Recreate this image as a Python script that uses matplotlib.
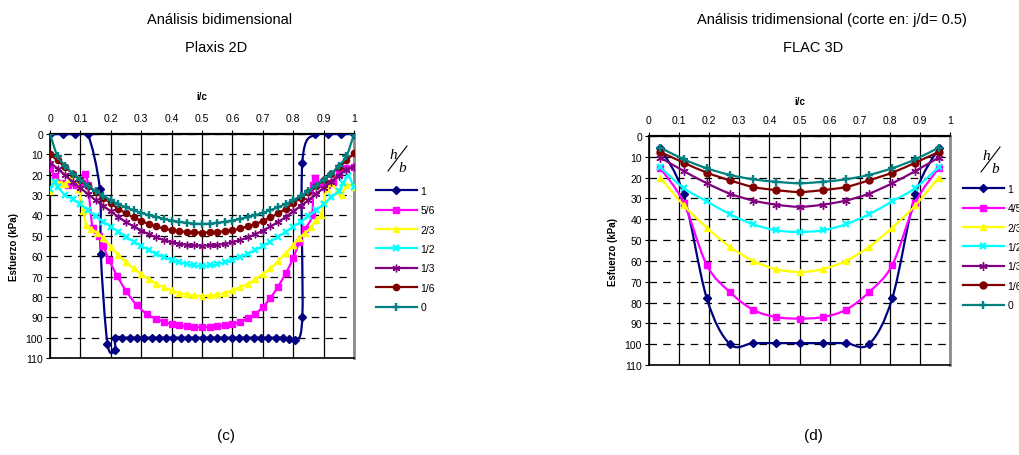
import matplotlib
matplotlib.use("Agg")
import matplotlib.pyplot as plt
from matplotlib.path import Path
from matplotlib.patches import PathPatch
from matplotlib.lines import Line2D

plt.rcParams['font.family'] = ['Liberation Sans', 'DejaVu Sans']

# ---------------- datos: Plaxis 2D (c) ----------------
leyenda_c = ['1', '5/6', '2/3', '1/2', '1/3', '1/6', '0']
leyenda_d = ['1', '4/5', '2/3', '1/2', '1/3', '1/6', '0']

c_x_1 = [0, 0.042, 0.083, 0.124, 0.164, 0.167, 0.189, 0.214, 0.214, 0.238, 0.262, 0.286,
         0.31, 0.334, 0.358, 0.382, 0.406, 0.43, 0.454, 0.478, 0.502, 0.526, 0.55, 0.574,
         0.598, 0.622, 0.646, 0.67, 0.694, 0.718, 0.742, 0.766, 0.785, 0.805, 0.83, 0.83,
         0.873, 0.914, 0.956, 1.0]
c_y_1 = [0, 0, 0, 0, 27, 59, 103, 106, 100, 100, 100, 100,
         100, 100, 100, 100, 100, 100, 100, 100, 100, 100, 100, 100,
         100, 100, 100, 100, 100, 100, 100, 100, 100.5, 101, 90, 14,
         0, 0, 0, 0]

c_x_56 = [0, 0.015, 0.04, 0.06, 0.085, 0.105, 0.115, 0.125, 0.14, 0.16, 0.175, 0.195,
          0.22, 0.25, 0.285, 0.32, 0.35, 0.375, 0.4, 0.425, 0.45, 0.475, 0.5, 0.525,
          0.55, 0.575, 0.6, 0.625, 0.65, 0.675, 0.7, 0.725, 0.75, 0.775, 0.8, 0.82,
          0.84, 0.862, 0.866, 0.872, 0.89, 0.91, 0.93, 0.95, 0.975, 1.0]
c_y_56 = [16.5, 20.5, 24, 25, 25, 24, 19.5, 25, 46, 50, 55, 62,
          69.5, 77, 84, 88.5, 90.8, 92.2, 93.3, 94, 94.5, 94.8, 94.9, 94.8,
          94.5, 94, 93.3, 92.2, 90.5, 88.3, 85, 80.5, 75, 68.5, 61, 53,
          46.5, 40, 25, 21.5, 24.5, 25, 23.5, 19, 16.5, 16]

c_x_23 = [0, 0.015, 0.035, 0.05, 0.065, 0.08, 0.095, 0.11, 0.12, 0.135, 0.155, 0.175,
          0.2, 0.225, 0.25, 0.275, 0.3, 0.325, 0.35, 0.375, 0.4, 0.425, 0.45, 0.475,
          0.5, 0.525, 0.55, 0.575, 0.6, 0.625, 0.65, 0.675, 0.7, 0.725, 0.75, 0.775,
          0.8, 0.82, 0.84, 0.86, 0.875, 0.89, 0.9, 0.91, 0.925, 0.945, 0.96, 0.975, 1.0]
c_y_23 = [28, 23, 24, 24.5, 22, 19.5, 27, 38, 44.5, 46.5, 48.5, 51,
          55.5, 59.5, 63, 66, 68.8, 71.3, 73.5, 75.3, 76.8, 78, 78.8, 79.3,
          79.5, 79.3, 78.8, 78, 76.8, 75.3, 73.5, 71.3, 68.8, 66, 62.5, 58.5,
          54.5, 51, 48.5, 45.5, 42, 40, 33, 27, 24, 28, 30, 25, 26]

c_x_12 = [0, 0.015, 0.025, 0.05, 0.075, 0.1, 0.125, 0.15, 0.175, 0.2, 0.225, 0.25,
          0.275, 0.3, 0.325, 0.35, 0.375, 0.4, 0.425, 0.45, 0.475, 0.5, 0.525, 0.55,
          0.575, 0.6, 0.625, 0.65, 0.675, 0.7, 0.725, 0.75, 0.775, 0.8, 0.825, 0.85,
          0.875, 0.9, 0.925, 0.95, 0.965, 0.98, 1.0]
c_y_12 = [27, 23.5, 26, 30, 32, 34.5, 37.5, 40.3, 43, 45.5, 48, 50.5,
          52.8, 55, 57, 58.8, 60.4, 61.8, 63, 63.9, 64.5, 64.8, 64.5, 63.9,
          63, 61.8, 60.4, 58.8, 57, 55, 52.8, 50.5, 48, 45.5, 43, 40.3,
          37.5, 34.5, 31, 28, 24, 20.5, 26]

c_x = [0, 0.025, 0.05, 0.075, 0.1, 0.125, 0.15, 0.175, 0.2, 0.225, 0.25, 0.275,
       0.3, 0.325, 0.35, 0.375, 0.4, 0.425, 0.45, 0.475, 0.5, 0.525, 0.55, 0.575,
       0.6, 0.625, 0.65, 0.675, 0.7, 0.725, 0.75, 0.775, 0.8, 0.825, 0.85, 0.875,
       0.9, 0.925, 0.95, 0.975, 1.0]
c_y_13 = [14, 17, 20.3, 23.5, 26.5, 29.5, 32.5, 35.3, 38, 40.8, 43.2, 45.4,
          47.4, 49.2, 50.8, 52.1, 53.1, 53.9, 54.4, 54.7, 54.8, 54.7, 54.4, 53.9,
          53.1, 52.1, 50.8, 49.2, 47.4, 45.4, 43.2, 40.8, 38, 35.3, 32.5, 29.5,
          26.5, 23.5, 20.5, 17.5, 16]
c_y_16 = [10, 13, 16.3, 19.5, 22.5, 25.5, 28.5, 31.3, 34, 36.7, 39, 41,
          42.7, 44.2, 45.4, 46.4, 47.2, 47.7, 48.1, 48.3, 48.4, 48.3, 48.1, 47.7,
          47.2, 46.4, 45.4, 44.2, 42.7, 41, 39, 36.7, 34, 31.3, 28.5, 25.5,
          22.5, 19.5, 16.3, 13, 9.5]
c_y_0 = [0, 11, 15.5, 19.5, 22.5, 25.3, 28, 30.3, 32.5, 34.4, 36, 37.4,
         38.7, 39.8, 40.8, 41.7, 42.5, 43.1, 43.6, 44, 44.2, 44, 43.6, 43.1,
         42.5, 41.7, 40.8, 39.8, 38.7, 37.4, 36, 34.4, 32.5, 30.3, 28, 25.3,
         22.5, 19.5, 15.5, 11, 0]

# ---------------- datos: FLAC 3D (d) ----------------
d_x = [0.038, 0.115, 0.192, 0.269, 0.346, 0.423, 0.5, 0.577, 0.654, 0.731, 0.808, 0.885, 0.962]
d_y_1 = [6, 28, 78, 100, 99.5, 99.5, 99.5, 99.5, 99.5, 100, 78, 28, 6]
d_y_45 = [15.5, 32, 62, 75, 83.5, 87, 87.7, 87, 83.5, 75, 62, 32, 15.5]
d_y_23 = [20, 33.3, 44, 53.3, 60, 64, 65.3, 64, 60, 53.3, 44, 33.3, 20]
d_y_12 = [15, 25, 31.4, 37.6, 42.4, 45.3, 46.1, 45.3, 42.4, 37.6, 31.4, 25, 15]
d_y_13 = [10.4, 16.8, 22.7, 27.7, 31, 33, 34, 33, 31, 27.7, 22.7, 16.8, 10.4]
d_y_16 = [7.7, 12.8, 17.6, 21.3, 24.5, 26, 26.9, 26, 24.5, 21.3, 17.6, 12.8, 7.7]
d_y_0 = [5.6, 11.2, 15.5, 18.7, 20.8, 22, 22.7, 22, 20.8, 18.7, 15.5, 11.2, 5.6]

colores = ['#000080', '#FF00FF', '#FFFF00', '#00FFFF', '#800080', '#800000', '#008080']
marcadores = ['D', 's', '^', 'x', (6, 2, 0), 'o', '+']
tam_c = [4, 4.5, 4.5, 5, 5.5, 4.5, 6]
tam_d = [4, 5, 5, 5, 6, 5, 6]

W, H = 1019, 456


def fx(px):
    return px / W


def fy(py):
    return 1 - py / H


def suave(x, y):
    # curva suavizada tipo Excel (Catmull-Rom como Bezier cubicas)
    n = len(x)
    verts = [(x[0], y[0])]
    codes = [Path.MOVETO]
    for i in range(n - 1):
        i0 = max(i - 1, 0)
        i3 = min(i + 2, n - 1)
        c1 = (x[i] + (x[i + 1] - x[i0]) / 6, y[i] + (y[i + 1] - y[i0]) / 6)
        c2 = (x[i + 1] - (x[i3] - x[i]) / 6, y[i + 1] - (y[i3] - y[i]) / 6)
        verts += [c1, c2, (x[i + 1], y[i + 1])]
        codes += [Path.CURVE4] * 3
    return Path(verts, codes)


def dibujar(ax, series, tam):
    for k, (x, y) in enumerate(series):
        ax.add_patch(PathPatch(suave(x, y), fill=False, edgecolor=colores[k], lw=1.6, zorder=3 + k * 0.1))
        ax.plot(x, y, ls='none', marker=marcadores[k], ms=tam[k], color=colores[k],
                mec=colores[k], mew=1.7 if marcadores[k] in ('x', '+') else 1.0, zorder=3.05 + k * 0.1)


def formato(ax, xlabel_pad, tick_pad):
    ax.set_xlim(0, 1)
    ax.set_ylim(110, 0)
    ax.xaxis.tick_top()
    ax.xaxis.set_label_position('top')
    ax.set_xticks([i / 10 for i in range(11)])
    ax.set_xticklabels(['0', '0.1', '0.2', '0.3', '0.4', '0.5', '0.6', '0.7', '0.8', '0.9', '1'])
    ax.set_yticks(range(0, 111, 10))
    ax.tick_params(labelsize=7.5, length=3, width=0.8, direction='out')
    ax.tick_params(axis='x', pad=tick_pad)
    ax.tick_params(axis='y', pad=2)
    ax.set_xlabel('i/c', fontsize=7, fontweight='bold', labelpad=xlabel_pad)
    ax.set_ylabel('Esfuerzo (kPa)', fontsize=7, fontweight='bold', labelpad=5)
    ax.xaxis.grid(True, color='black', lw=0.9)
    ax.yaxis.grid(True, color='black', lw=0.9, ls=(0, (6, 5)))
    ax.set_axisbelow(True)
    for s in ['left', 'bottom']:
        ax.spines[s].set_linewidth(1.2)
    ax.spines['top'].set_linewidth(1.6)
    ax.spines['right'].set_color('#8a8a8a')
    ax.spines['right'].set_linewidth(2)


def leyenda(fig, etiquetas, tam, x0, y0):
    handles = [Line2D([], [], color=colores[k], lw=1.6, marker=marcadores[k], ms=tam[k],
                      mew=1.7 if marcadores[k] in ('x', '+') else 1.0) for k in range(7)]
    fig.legend(handles, etiquetas, loc='upper left', bbox_to_anchor=(fx(x0), fy(y0)),
               frameon=False, fontsize=7.5, handlelength=3.9, handletextpad=0.35,
               labelspacing=0.9, borderaxespad=0, borderpad=0)


def hb(fig, x, y):
    fig.text(fx(x), fy(y), 'h', fontsize=11, family='Liberation Serif', style='italic', ha='center', va='center')
    fig.text(fx(x + 9), fy(y + 13), 'b', fontsize=11, family='Liberation Serif', style='italic', ha='center', va='center')
    fig.add_artist(Line2D([fx(x - 5), fx(x + 14)], [fy(y + 16), fy(y - 9)], color='black', lw=0.8))


fig = plt.figure(figsize=(W / 100, H / 100), dpi=100)

ax1 = fig.add_axes([fx(50), fy(359), fx(354) - fx(50), fy(135) - fy(359)])
dibujar(ax1, [(c_x_1, c_y_1), (c_x_56, c_y_56), (c_x_23, c_y_23), (c_x_12, c_y_12),
              (c_x, c_y_13), (c_x, c_y_16), (c_x, c_y_0)], tam_c)
formato(ax1, 10, 5)

ax2 = fig.add_axes([fx(649), fy(366), fx(950) - fx(649), fy(137) - fy(366)])
dibujar(ax2, [(d_x, d_y_1), (d_x, d_y_45), (d_x, d_y_23), (d_x, d_y_12),
              (d_x, d_y_13), (d_x, d_y_16), (d_x, d_y_0)], tam_d)
formato(ax2, 8, 5)

leyenda(fig, leyenda_c, tam_c, 376, 187)
leyenda(fig, leyenda_d, tam_d, 963, 185)
hb(fig, 393, 156)
hb(fig, 986, 157)

fig.text(fx(220), fy(20), 'Análisis bidimensional', fontsize=10.5, ha='center', va='center')
fig.text(fx(216), fy(48), 'Plaxis 2D', fontsize=10.5, ha='center', va='center')
fig.text(fx(832), fy(20), 'Análisis tridimensional (corte en: j/d= 0.5)', fontsize=10.5, ha='center', va='center')
fig.text(fx(813), fy(48), 'FLAC 3D', fontsize=10.5, ha='center', va='center')
fig.text(fx(226), fy(436), '(c)', fontsize=11, ha='center', va='center')
fig.text(fx(813), fy(436), '(d)', fontsize=11, ha='center', va='center')

fig.savefig('out.png', dpi=100)
